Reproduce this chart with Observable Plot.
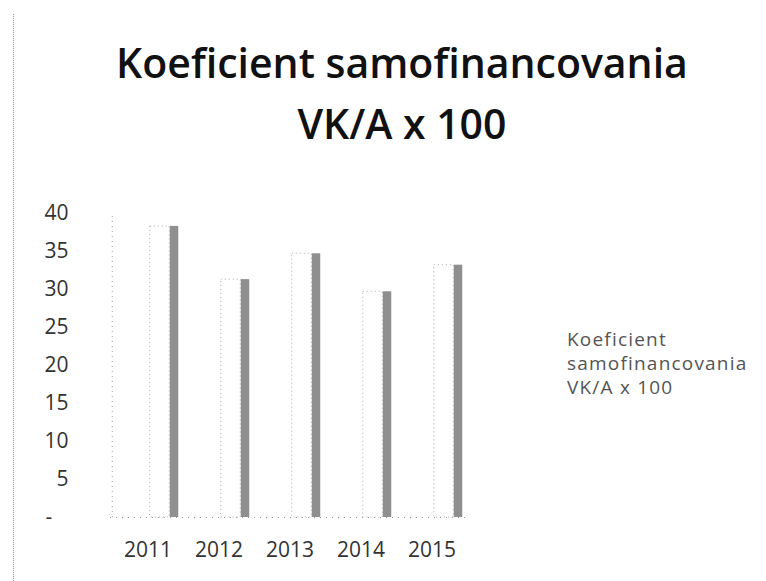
<!DOCTYPE html>
<html>
<head>
<meta charset="utf-8">
<script src="https://cdn.jsdelivr.net/npm/d3@7"></script>
<script src="https://cdn.jsdelivr.net/npm/@observablehq/plot@0.6"></script>
<style>
  html, body { margin: 0; padding: 0; background: #fff; }
  #page { position: relative; width: 766px; height: 581px; overflow: hidden; }
  #edge { position: absolute; left: 13px; top: 14px; height: 567px; border-left: 1px dotted #9a9a9a; }
  #title { position: absolute; left: 0; top: 32px; width: 804px; text-align: center;
           font-family: "Open Sans", sans-serif; font-weight: 600; font-size: 41px; line-height: 61px; color: #111; }
  #chart { position: absolute; left: 0; top: 180px; }
  #legend { position: absolute; left: 567px; top: 327px; font-family: "Open Sans", sans-serif;
            font-size: 19px; line-height: 24px; color: #555; letter-spacing: 1.2px; }
</style>
</head>
<body>
<div id="page">
  <div id="edge"></div>
  <div id="title">Koeficient samofinancovania<br>VK/A x 100</div>
  <div id="chart"></div>
  <div id="legend">Koeficient<br>samofinancovania<br>VK/A x 100</div>
</div>
<script>
const years = ["2011", "2012", "2013", "2014", "2015"];
const values = [38.3, 31.3, 34.7, 29.7, 33.2];
const yTicks = [0, 5, 10, 15, 20, 25, 30, 35, 40];

const data = years.map((y, i) => ({year: y, value: values[i]}));

const chart = Plot.plot({
  width: 766,
  height: 401,
  marginTop: 33,
  marginBottom: 64,
  marginLeft: 110,
  marginRight: 298,
  style: {fontFamily: "'Open Sans', sans-serif", fontSize: "21px", color: "#333", background: "transparent"},
  x: {domain: years, padding: 0, label: null, tickSize: 0, tickPadding: 25},
  y: {domain: [0, 40], ticks: yTicks, label: null, tickSize: 0, tickPadding: 42,
      tickFormat: d => d === 0 ? "-\u00a0\u00a0\u00a0" : String(d)},
  marks: [
    Plot.ruleX([years[0]], {x: d => d, y1: 0, y2: 40, dx: -35.75, stroke: "#999", strokeDasharray: "1,4"}),
    Plot.ruleY([0], {stroke: "#999", strokeDasharray: "1,5"}),
    Plot.barY(data, {x: "year", y: "value", fill: "none", stroke: "#aaa", strokeDasharray: "1,3",
      insetLeft: 37.75, insetRight: 13.75}),
    Plot.barY(data, {x: "year", y: "value", fill: "#8f8f8f",
      insetLeft: 57.75, insetRight: 4.75})
  ]
});
document.getElementById("chart").appendChild(chart);
</script>
</body>
</html>
